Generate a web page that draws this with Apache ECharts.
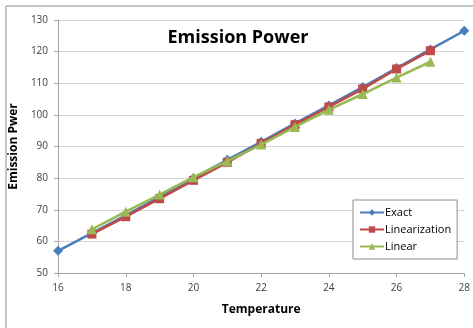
<!DOCTYPE html>
<html>
<head>
    <meta charset="utf-8">
    <title>Emission Power</title>
    <style>
        html, body { margin: 0; padding: 0; background: #fff; }
    </style>
</head>
<body>
    <div id="main" style="width: 473px;height:328px;"></div>
    <script src="https://cdn.jsdelivr.net/npm/echarts@6/dist/echarts.min.js"></script>
    <script>
        var temps = [16, 17, 18, 19, 20, 21, 22, 23, 24, 25, 26, 27, 28];
        var exact = [57, 62.6, 68.2, 74, 80, 85.8, 91.5, 97.3, 103, 108.8, 114.8, 120.7, 126.6];
        var linTemps = [17, 18, 19, 20, 21, 22, 23, 24, 25, 26, 27];
        var linearization = [62.3, 67.8, 73.5, 79.3, 85, 91, 96.9, 102.5, 108.2, 114.5, 120.3];
        var linear = [63.8, 69.4, 74.8, 80.3, 85.4, 90.6, 96.2, 101.6, 106.6, 111.8, 116.8];

        function pairs(xs, ys) {
            return xs.map(function (x, i) { return [x, ys[i]]; });
        }

        var myChart = echarts.init(document.getElementById('main'));
        var font = 'Open Sans';
        option = {
            backgroundColor: '#fff',
            animation: false,
            title: {
                text: 'Emission Power',
                left: 233,
                textAlign: 'center',
                top: 24,
                textStyle: { fontFamily: font, fontSize: 18, fontWeight: 'bold', color: '#000' }
            },
            graphic: [{
                type: 'rect',
                shape: { x: 6, y: 6, width: 480, height: 340 },
                style: { fill: 'none', stroke: '#8c8c8c', lineWidth: 1 },
                silent: true
            }],
            legend: {
                orient: 'vertical',
                left: 353,
                top: 200,
                width: 106,
                padding: [7, 6, 7, 6],
                itemGap: 6,
                itemWidth: 24,
                itemHeight: 8,
                backgroundColor: '#fff',
                borderColor: '#8c8c8c',
                borderWidth: 1,
                textStyle: { fontFamily: font, fontSize: 11, color: '#000', padding: [0, 0, 0, -4] },
                data: ['Exact', 'Linearization', 'Linear']
            },
            grid: { left: 55, right: 7, top: 20, bottom: 55 },
            xAxis: {
                type: 'value',
                min: 16, max: 28, interval: 2,
                name: 'Temperature',
                nameLocation: 'middle',
                nameGap: 31,
                nameTextStyle: { fontFamily: font, fontSize: 12, fontWeight: 'bold', color: '#000' },
                axisLine: { lineStyle: { color: '#a6a6a6' } },
                axisTick: { lineStyle: { color: '#a6a6a6' }, length: 4 },
                splitLine: { show: false },
                axisLabel: { fontFamily: font, fontSize: 10, color: '#404040', margin: 10 }
            },
            yAxis: {
                type: 'value',
                min: 50, max: 130, interval: 10,
                name: 'Emission Pwer',
                nameLocation: 'middle',
                nameGap: 33,
                nameTextStyle: { fontFamily: font, fontSize: 12, fontWeight: 'bold', color: '#000' },
                axisLine: { show: true, lineStyle: { color: '#a6a6a6' } },
                axisTick: { show: true, lineStyle: { color: '#a6a6a6' }, length: 4 },
                splitLine: { lineStyle: { color: '#d4d4d4', width: 1 } },
                axisLabel: { fontFamily: font, fontSize: 10, color: '#404040', margin: 10 }
            },
            series: [{
                name: 'Exact',
                type: 'line',
                data: pairs(temps, exact),
                symbol: 'diamond',
                symbolSize: 10,
                lineStyle: { color: '#4a7ebb', width: 2.5 },
                itemStyle: { color: '#4a7ebb' },
                z: 2
            }, {
                name: 'Linearization',
                type: 'line',
                data: pairs(linTemps, linearization),
                symbol: 'rect',
                symbolSize: 9,
                lineStyle: { color: '#be4b48', width: 2.5 },
                itemStyle: { color: '#be4b48' },
                z: 3
            }, {
                name: 'Linear',
                type: 'line',
                data: pairs(linTemps, linear),
                symbol: 'triangle',
                symbolSize: 10,
                lineStyle: { color: '#98b954', width: 2.5 },
                itemStyle: { color: '#98b954' },
                z: 4
            }]
        };
        myChart.setOption(option);
    </script>
</body>
</html>
